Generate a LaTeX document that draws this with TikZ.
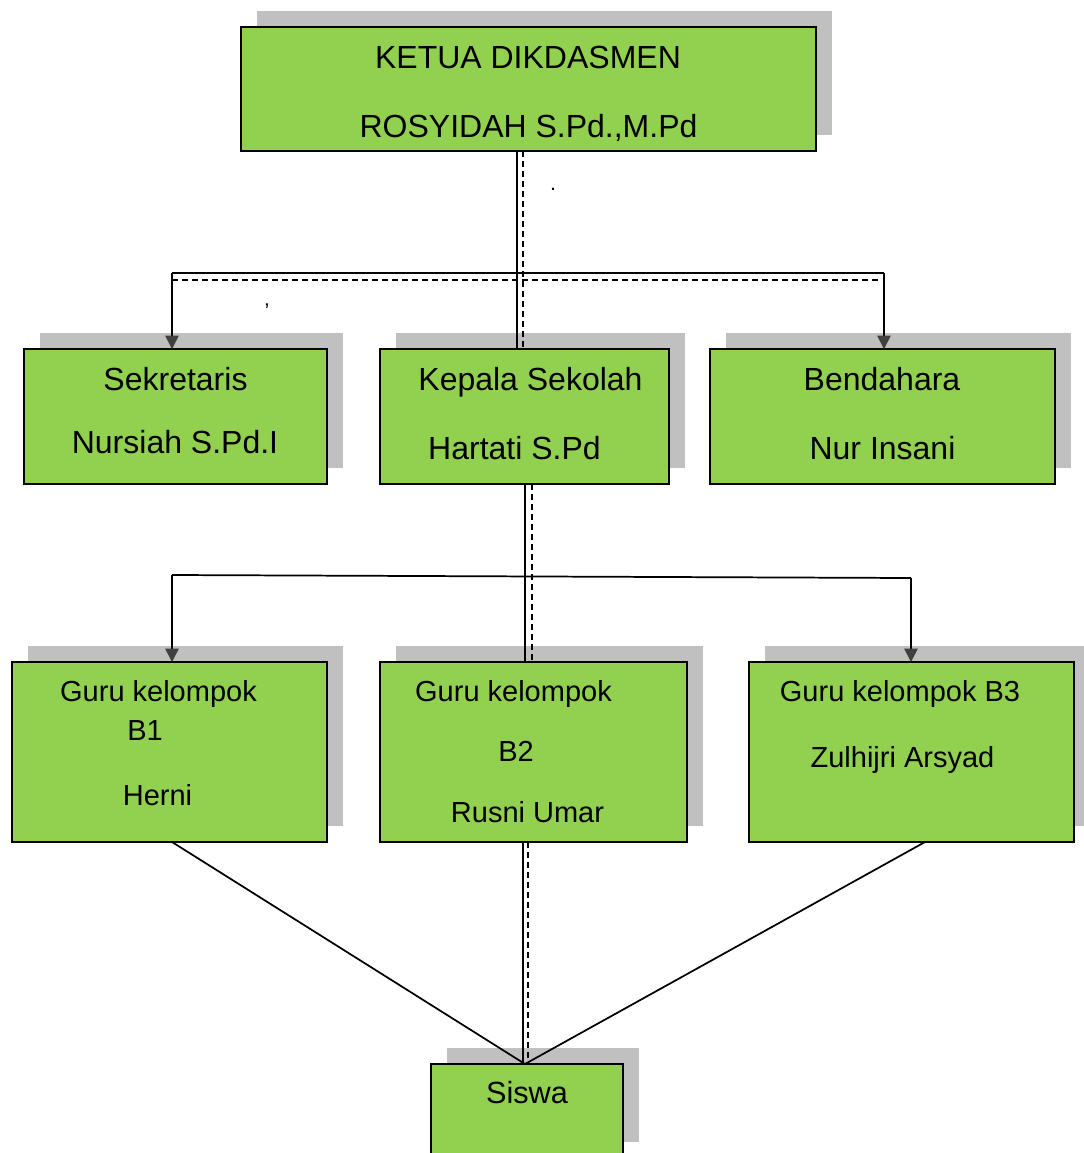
\documentclass[tikz,border=0pt]{standalone}
\usepackage{fontspec}
\setmainfont{Liberation Sans}
\usetikzlibrary{arrows.meta,shadows,fit}
\definecolor{boxgreen}{HTML}{92D050}
\definecolor{shadowgray}{HTML}{C0C0C0}
\definecolor{tipgray}{HTML}{404040}
\begin{document}
\begin{tikzpicture}[x=0.75pt,y=-0.75pt,
  box/.style={draw=black, line width=1.5pt, fill=boxgreen, inner sep=0pt, outer sep=0pt,
    drop shadow={shadow xshift=12pt, shadow yshift=12pt, fill=shadowgray, opacity=1}},
  lbl/.style={font=\fontsize{24pt}{28pt}\selectfont, anchor=base, inner sep=0pt},
  slbl/.style={font=\fontsize{21.75pt}{26pt}\selectfont, anchor=base, inner sep=0pt},
  mlbl/.style={font=\fontsize{23pt}{27pt}\selectfont, anchor=base, inner sep=0pt},
  tiny/.style={font=\fontsize{16pt}{18pt}\selectfont, inner sep=0pt},
  conn/.style={draw=black, line width=1.3pt},
  dashline/.style={draw=black, line width=1.3pt, dash pattern=on 4.5pt off 3pt},
  tip/.style={-{Triangle[width=10pt,length=10pt,color=tipgray]}},
]
\useasboundingbox (0,0) rectangle (1084,1153);

% boxes
\node[box, fit={(241,27) (816,151)}] (ketua) {};
\node[box, fit={(24,349) (327,484)}] (sekr) {};
\node[box, fit={(380,349) (669,484)}] (kepala) {};
\node[box, fit={(710,349) (1055,484)}] (bend) {};
\node[box, fit={(12,662) (327,842)}] (gb1) {};
\node[box, fit={(380,662) (687,842)}] (gb2) {};
\node[box, fit={(749,662) (1074,842)}] (gb3) {};
\node[box, fit={(431,1064) (623,1158)}] (siswa) {};

% texts
\node[lbl] (t1) at (528,68) {KETUA DIKDASMEN};
\node[lbl] (t2) at (528.5,137) {ROSYIDAH S.Pd.,M.Pd};
\node[lbl] (t3) at (175.5,390) {Sekretaris};
\node[lbl] (t4) at (175,453) {Nursiah S.Pd.I};
\node[lbl] (t5) at (530.5,390) {Kepala Sekolah};
\node[lbl] (t6) at (514.5,459) {Hartati S.Pd};
\node[lbl] (t7) at (882,390) {Bendahara};
\node[lbl] (t8) at (882.5,459) {Nur Insani};
\node[slbl] (t9) at (158.5,701) {Guru kelompok};
\node[slbl] (t10) at (145,740) {B1};
\node[slbl] (t11) at (157.5,805) {Herni};
\node[slbl] (t12) at (513.5,701) {Guru kelompok};
\node[slbl] (t13) at (516,761) {B2};
\node[slbl] (t14) at (527.5,822) {Rusni Umar};
\node[slbl] (t15) at (900,701) {Guru kelompok B3};
\node[slbl] (t16) at (902.5,767) {Zulhijri Arsyad};
\node[mlbl] (t17) at (527,1103) {Siswa};
\node[tiny, anchor=base] (dot) at (553,190) {.};
\node[tiny, anchor=base] (apos) at (267,318) {’};

% level 1 connectors
\coordinate (s1) at (517,273);
\coordinate (d1) at (523,280);
\coordinate (hL) at (172,273);
\coordinate (hR) at (884,273);
\coordinate (dL) at (172,280);
\coordinate (dR) at (882,280);
\draw[conn] (ketua.south -| s1) -- (kepala.north -| s1);
\draw[dashline] (ketua.south -| d1) -- (kepala.north -| d1);
\draw[conn] (hL) -- (hR);
\draw[dashline] (dL) -- (dR);
\draw[conn, tip] (hL) -- (sekr.north -| hL);
\draw[conn, tip] (hR) -- (bend.north -| hR);

% level 2 connectors
\coordinate (s2) at (525,576);
\coordinate (d2) at (532,576);
\coordinate (h2L) at (172,575);
\coordinate (h2R) at (911,578);
\draw[conn] (kepala.south -| s2) -- (gb2.north -| s2);
\draw[dashline] (kepala.south -| d2) -- (gb2.north -| d2);
\draw[conn] (h2L) -- (h2R);
\draw[conn, tip] (h2L) -- (gb1.north -| h2L);
\draw[conn, tip] (h2R) -- (gb3.north -| h2R);

% level 3 connectors
\coordinate (m) at (525,1064);
\coordinate (b1o) at (172,842);
\coordinate (b3o) at (925,842);
\coordinate (s3) at (523,900);
\coordinate (d3) at (528,900);
\draw[conn] (gb1.south -| b1o) -- (siswa.north -| m);
\draw[conn] (gb3.south -| b3o) -- (siswa.north -| m);
\draw[conn] (gb2.south -| s3) -- (siswa.north -| s3);
\draw[dashline] (gb2.south -| d3) -- (siswa.north -| d3);
\end{tikzpicture}
\end{document}
